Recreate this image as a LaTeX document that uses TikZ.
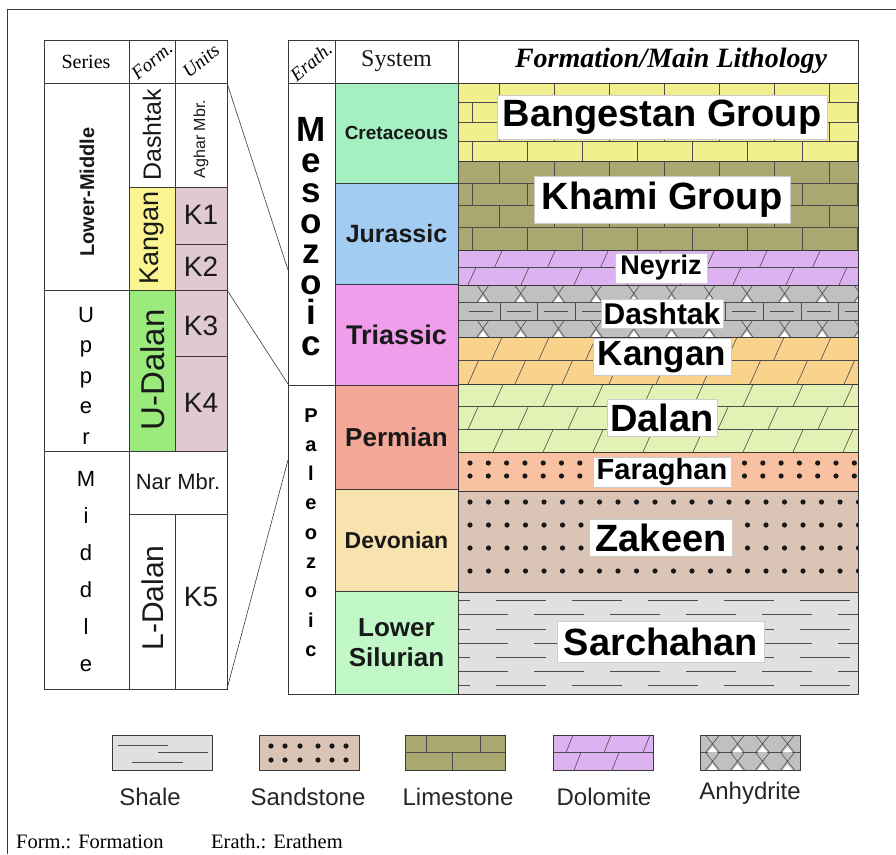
\documentclass[tikz,border=0pt]{standalone}
\usepackage{fontspec}
\setmainfont{Liberation Serif}
\newfontfamily\arialfont{Liberation Sans}
\newcommand{\fsz}[1]{\fontsize{#1}{#1}\selectfont}

\tikzset{
    grid line/.style={draw=lineColour, line width=0.9pt},
    litho line/.style={draw=black!70, line width=0.6pt},
    link line/.style={draw=lineColour, line width=0.6pt},
    head text/.style={inner sep=0pt, text=black},
    sys cell/.style={draw=lineColour, line width=0.9pt, minimum width=123, inner sep=0pt,
        align=center, text=black!90, font=\arialfont\bfseries\fsz{#1}},
    lith label/.style={fill=white, draw=black!20, inner sep=0pt, text=black,
        font=\arialfont\bfseries\fsz{#1}},
    col text/.style={inner sep=0pt, text=black!90, font=\arialfont\fsz{#1}},
    era letter/.style={inner sep=0pt, text height=17, text depth=0, text=black,
        font=\arialfont\bfseries\fsz{#1}},
    legend box/.style={draw=lineColour, line width=0.7pt, minimum width=100, minimum height=35, inner sep=0pt},
    legend text/.style={inner sep=0pt, text=black!85, font=\arialfont\fsz{24}}
}

% Lithology fills: x0, y0 (top), x1, y1 (bottom), ...
\newcommand{\limestone}[6]{% rows, brick width
    \begin{scope}
        \clip (#1,#2) rectangle (#3,#4);
        \pgfmathsetmacro{\lrowh}{(#4-#2)/#5}
        \foreach \r in {1,...,#5}{
            \pgfmathsetmacro{\lya}{#2+(\r-1)*\lrowh}
            \pgfmathsetmacro{\lyb}{#2+\r*\lrowh}
            \draw[litho line] (#1,\lyb) -- (#3,\lyb);
            \foreach \k in {0,...,16}{
                \pgfmathsetmacro{\lxx}{#1+14+mod(\r,2)*#6/2+(\k-1)*#6}
                \draw[litho line] (\lxx,\lya) -- (\lxx,\lyb);
            }
        }
    \end{scope}}
\newcommand{\dolomite}[6]{% rows, slash spacing
    \begin{scope}
        \clip (#1,#2) rectangle (#3,#4);
        \pgfmathsetmacro{\lrowh}{(#4-#2)/#5}
        \foreach \r in {1,...,#5}{
            \pgfmathsetmacro{\lyb}{#2+\r*\lrowh}
            \draw[litho line] (#1,\lyb) -- (#3,\lyb);
            \foreach \k in {0,...,16}{
                \pgfmathsetmacro{\lxx}{#1+10+mod(\r,2)*#6/2+(\k-1)*#6}
                \draw[litho line] (\lxx,\lyb) -- ++(0.45*\lrowh,-\lrowh);
            }
        }
    \end{scope}}
\newcommand{\sandstone}[6]{% rows of dots, dot spacing
    \begin{scope}
        \clip (#1,#2) rectangle (#3,#4);
        \foreach \yy in {#5}
            \foreach \k in {0,...,24}
                \fill[black!90] ({#1+12+\k*#6},\yy) circle (2.6pt);
    \end{scope}}
\newcommand{\shale}[6]{% rows of dashes, dash period
    \begin{scope}
        \clip (#1,#2) rectangle (#3,#4);
        \foreach \yy [count=\r] in {#5}
            \foreach \k in {-1,...,8}
                \draw[litho line] ({#1+mod(\r,2)*#6/2+\k*#6},\yy) -- ++(0.66*#6,0);
    \end{scope}}
\newcommand{\anhyrow}[7]{% first centre, spacing, half width
    \begin{scope}
        \clip (#1,#2) rectangle (#3,#4);
        \draw[litho line] (#1,#4) -- (#3,#4);
        \foreach \k in {0,...,16}{
            \pgfmathsetmacro{\lxx}{#5+\k*#6}
            \fill[white] ({\lxx},{(#2+2*#4)/3}) -- ({\lxx-0.7*#7},#4) -- ({\lxx+0.7*#7},#4) -- cycle;
            \draw[litho line] ({\lxx-#7},#2) -- ({\lxx+#7},#4)
                              ({\lxx+#7},#2) -- ({\lxx-#7},#4);
        }
    \end{scope}}

\begin{document}
\begin{tikzpicture}[x=1pt, y=-1pt]
    \definecolor{lineColour}{HTML}{3A3A3A}
    \definecolor{bangestanFill}{HTML}{F2EF8E}
    \definecolor{khamiFill}{HTML}{A9A870}
    \definecolor{neyrizFill}{HTML}{DDB2F0}
    \definecolor{dashtakFill}{HTML}{C0C0C0}
    \definecolor{kanganFill}{HTML}{F9D38C}
    \definecolor{dalanFill}{HTML}{E4F1B4}
    \definecolor{faraghanFill}{HTML}{F8C1A2}
    \definecolor{zakeenFill}{HTML}{DAC4B6}
    \definecolor{sarchahanFill}{HTML}{E0E0E0}
    \definecolor{cretFill}{HTML}{A4F0C0}
    \definecolor{jurFill}{HTML}{A2CCF2}
    \definecolor{triFill}{HTML}{F09EEC}
    \definecolor{permFill}{HTML}{F4A898}
    \definecolor{devFill}{HTML}{F8E2AE}
    \definecolor{silFill}{HTML}{C2F7C8}
    \definecolor{kanganForm}{HTML}{FAF590}
    \definecolor{udalanForm}{HTML}{9BEB7C}
    \definecolor{unitFill}{HTML}{E0C9D0}

    \useasboundingbox (0,0) rectangle (896,854);

    % Outer frame
    \draw[lineColour, line width=0.8pt] (7,854) -- (7,9) -- (896,9);

    % Left table: series, formations, units
    \fill[kanganForm] (129,187) rectangle (175,290);
    \fill[udalanForm] (129,290) rectangle (175,451);
    \fill[unitFill] (175,187) rectangle (227,451);
    \draw[grid line] (44,40) rectangle (227,689);
    \draw[grid line] (129,40) -- (129,689)
        (175,40) -- (175,451) (175,514) -- (175,689)
        (44,83) -- (227,83) (129,187) -- (227,187) (175,244) -- (227,244)
        (44,290) -- (227,290) (175,356) -- (227,356)
        (44,451) -- (227,451) (129,514) -- (227,514);

    \node[head text, font=\fsz{20}] (series) at (86,62) {Series};
    \node[head text, font=\fsz{19}\itshape, rotate=40] (formhead) at (152,61) {Form.};
    \node[head text, font=\fsz{19}\itshape, rotate=40] (unitshead) at (201,61) {Units};

    \node[col text=20, font=\arialfont\bfseries\fsz{20}, rotate=90] (lowmid) at (87,192) {Lower-Middle};
    \foreach \ch [count=\i] in {U,p,p,e,r}
        \node[era letter=22, font=\arialfont\fsz{22}, text height=12] (upper\i) at (86,{316+(\i-1)*30.5}) {\ch};
    \foreach \ch [count=\i] in {M,i,d,d,l,e}
        \node[era letter=22, font=\arialfont\fsz{22}, text height=12] (middle\i) at (86,{480+(\i-1)*37}) {\ch};

    \node[col text=25, rotate=90] (dashtakform) at (152,135) {Dashtak};
    \node[col text=27, rotate=90] (kanganform) at (152,238) {Kangan};
    \node[col text=33, rotate=90] (udalan) at (153,370) {U-Dalan};
    \node[col text=30, rotate=90] (ldalan) at (153,598) {L-Dalan};
    \node[col text=16, rotate=90] (aghar) at (201,139) {Aghar Mbr.};
    \node[col text=28] (kone) at (201,215) {K1};
    \node[col text=28] (ktwo) at (201,267) {K2};
    \node[col text=28] (kthree) at (201,326) {K3};
    \node[col text=28] (kfour) at (201,403) {K4};
    \node[col text=22] (nar) at (178,482) {Nar Mbr.};
    \node[col text=28] (kfive) at (201,597) {K5};

    % Links from the left table to the erathem column
    \coordinate (lt-a) at (227,83);
    \coordinate (er-a) at (288,270);
    \coordinate (lt-b) at (227,290);
    \coordinate (er-b) at (288,384);
    \coordinate (lt-c) at (227,689);
    \coordinate (er-c) at (288,460);
    \draw[link line] (lt-a) -- (er-a);
    \draw[link line] (lt-b) -- (er-b);
    \draw[link line] (lt-c) -- (er-c);

    % Erathem column
    \draw[grid line] (288,40) rectangle (335,694);
    \draw[grid line] (288,83) -- (335,83) (288,385) -- (335,385);
    \node[head text, font=\fsz{19}\itshape, rotate=40] (erathhead) at (311,62) {Erath.};
    \foreach \ch [count=\i] in {M,e,s,o,z,o,i,c}
        \node[era letter=35, text height=19] (meso\i) at (311,{132+(\i-1)*30.5}) {\ch};
    \foreach \ch [count=\i] in {P,a,l,e,o,z,o,i,c}
        \node[era letter=20, text height=10] (paleo\i) at (311,{417+(\i-1)*29.3}) {\ch};

    % System column
    \node[sys cell=24, minimum height=43, font=\fsz{24}] (system) at (396.5,61.5) {System};
    \node[sys cell=19, minimum height=100, fill=cretFill] (cret) at (396.5,133) {Cretaceous};
    \node[sys cell=25, minimum height=101, fill=jurFill] (jur) at (396.5,233.5) {Jurassic};
    \node[sys cell=27, minimum height=101, fill=triFill] (tri) at (396.5,334.5) {Triassic};
    \node[sys cell=26, minimum height=104, fill=permFill] (perm) at (396.5,437) {Permian};
    \node[sys cell=23, minimum height=102, fill=devFill] (dev) at (396.5,540) {Devonian};
    \node[sys cell=26, minimum height=103, fill=silFill, font=\arialfont\bfseries\fontsize{26}{30}\selectfont] (sil) at (396.5,642.5) {Lower\\Silurian};

    % Formation / lithology column
    \fill[bangestanFill] (458,83) rectangle (858,161);
    \limestone{458}{83}{858}{161}{4}{55}
    \fill[khamiFill] (458,161) rectangle (858,250);
    \limestone{458}{161}{858}{250}{4}{55}
    \fill[neyrizFill] (458,250) rectangle (858,285);
    \dolomite{458}{250}{858}{285}{2}{53}
    \fill[dashtakFill] (458,285) rectangle (858,337);
    \anhyrow{458}{285}{858}{302}{483}{37.7}{6}
    \anhyrow{458}{320}{858}{337}{483}{37.7}{6}
    \begin{scope}
        \clip (458,302) rectangle (858,320);
        \draw[litho line] (458,320) -- (858,320);
        \foreach \k in {0,...,10}{
            \draw[litho line] ({500+\k*37.6},302) -- ++(0,18);
            \draw[litho line] ({469+\k*37.6},311) -- ++(24,0);
        }
    \end{scope}
    \fill[kanganFill] (458,337) rectangle (858,384);
    \dolomite{458}{337}{858}{384}{2}{47}
    \fill[dalanFill] (458,384) rectangle (858,452);
    \dolomite{458}{384}{858}{452}{3}{50}
    \fill[faraghanFill] (458,452) rectangle (858,491);
    \sandstone{458}{452}{858}{491}{463,476}{18.3}
    \fill[zakeenFill] (458,491) rectangle (858,592);
    \sandstone{458}{491}{858}{592}{502,525,548,571}{18.5}
    \fill[sarchahanFill] (458,592) rectangle (858,694);
    \shale{458}{592}{858}{694}{600,614,629,643,657,671,685}{76}

    \draw[grid line] (458,40) rectangle (858,694);
    \foreach \yy in {83,161,250,285,337,384,452,491,592}
        \draw[grid line] (458,\yy) -- (858,\yy);

    \node[head text, font=\fsz{28}\bfseries\itshape] (lithhead) at (671,61) {Formation/Main Lithology};

    \node[lith label=38, minimum width=330, minimum height=44] (bangestan) at (662,117) {Bangestan Group};
    \node[lith label=38, minimum width=256, minimum height=47] (khami) at (662,200) {Khami Group};
    \node[lith label=27, minimum width=92, minimum height=30] (neyriz) at (661,268) {Neyriz};
    \node[lith label=30, minimum width=122, minimum height=29] (dashtak) at (662,314) {Dashtak};
    \node[lith label=35, minimum width=138, minimum height=37] (kangan) at (662,357) {Kangan};
    \node[lith label=38, minimum width=110, minimum height=37] (dalan) at (662,418) {Dalan};
    \node[lith label=29, minimum width=138, minimum height=30] (faraghan) at (662,472) {Faraghan};
    \node[lith label=38, minimum width=143, minimum height=37] (zakeen) at (661,538) {Zakeen};
    \node[lith label=38, minimum width=207, minimum height=41] (sarchahan) at (661,642) {Sarchahan};

    % Legend
    \node[legend box, fill=sarchahanFill] (shalebox) at (162,752.5) {};
    \draw[litho line] (118,745) -- (168,745) (158,752) -- (208,752) (132,762) -- (183,762);
    \node[legend box, fill=zakeenFill] (sandbox) at (309,752.5) {};
    \foreach \xx in {271,285,300,318,332,346}
        \fill[black!90] (\xx,746) circle (2.6pt) (\xx,760) circle (2.6pt);
    \node[legend box, fill=khamiFill] (limebox) at (455,752.5) {};
    \draw[litho line] (405,752.5) -- (505,752.5) (426,735) -- (426,752.5) (480,735) -- (480,752.5)
        (452,752.5) -- (452,770);
    \node[legend box, fill=neyrizFill] (dolobox) at (603,752.5) {};
    \draw[litho line] (553,752.5) -- (653,752.5);
    \foreach \xx in {566,604,643}
        \draw[litho line] (\xx,752.5) -- ++(7,-17.5);
    \foreach \xx in {574,612}
        \draw[litho line] (\xx,770) -- ++(7,-17.5);
    \node[legend box, fill=dashtakFill] (anhybox) at (750,752.5) {};
    \anhyrow{700}{735}{800}{752.5}{712.5}{25}{7}
    \anhyrow{700}{752.5}{800}{770}{712.5}{25}{7}
    \draw[grid line, line width=0.7pt] (700,735) rectangle (800,770);

    \node[legend text] (shaletext) at (150,797) {Shale};
    \node[legend text] (sandtext) at (308,797) {Sandstone};
    \node[legend text] (limetext) at (458,797) {Limestone};
    \node[legend text] (dolotext) at (604,797) {Dolomite};
    \node[legend text] (anhytext) at (750,793) {Anhydrite};

    % Abbreviations
    \node[head text, font=\fsz{20.5}, anchor=base west] (formnote) at (16,848) {Form.: Formation};
    \node[head text, font=\fsz{20.5}, anchor=base west] (erathnote) at (211,848) {Erath.: Erathem};

\end{tikzpicture}
\end{document}
